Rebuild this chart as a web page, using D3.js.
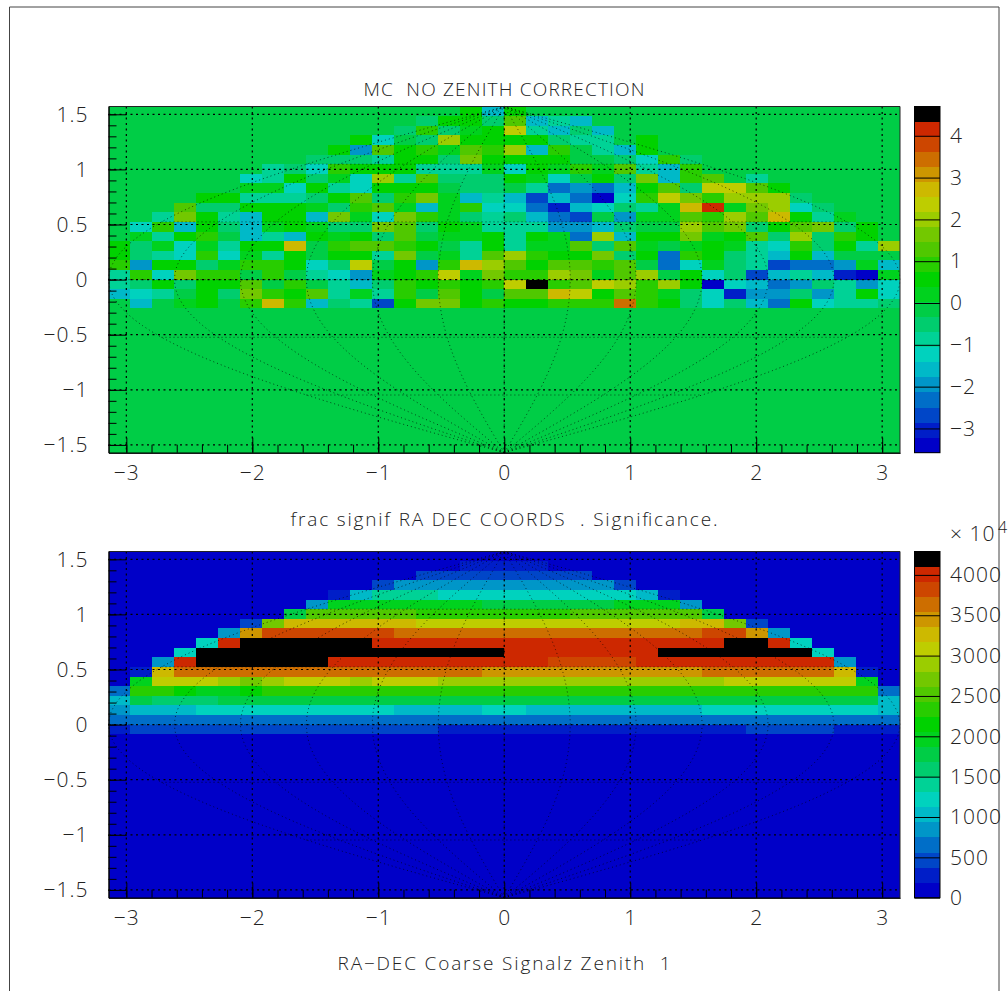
<!DOCTYPE html>
<html lang="en">
<head>
    <meta charset="UTF-8">
    <title>RA DEC significance maps</title>
    <script src="https://cdn.jsdelivr.net/npm/d3@7"></script>
    <style>
        body { margin: 0; background: #fff; }
        text { font-family: "Open Sans", "Liberation Sans", sans-serif; font-weight: 300; fill: #222; }
    </style>
</head>
<body>
    <svg id="svg"></svg>

    <script>

        var WIDTH = 1008;
        var HEIGHT = 991;
        var BINS = 36;

        // colour levels of the palette, bottom of the colour bar first
        var palette = ["#0000c8","#001ec8","#0046c8","#006ec8","#0096c8","#00b9c8","#00d2be","#00d296","#00cd6e","#00cd46",
                       "#00d21e","#00d200","#28cd00","#50c800","#73c800","#9bcd00","#becd00","#cdb900","#cd9600","#cd6e00",
                       "#cd4600","#cd2800","#000000"];

        // Significance per bin, top row first, rows below the last one are empty
        var signifRows = [
            [0,0,0,0,0,0,0,0,0,0,0,0,0,0,0,0,.6,-1.6,.6,0,0,0,0,0,0,0,0,0,0,0,0,0,0,0,0,0],
            [0,0,0,0,0,0,0,0,0,0,0,0,0,0,-.5,.6,.6,-.5,1.3,-1.6,-.9,-1.6,0,0,0,0,0,0,0,0,0,0,0,0,0,0],
            [0,0,0,0,0,0,0,0,0,0,0,0,0,-.5,.9,-.5,.2,.6,2.4,-.9,-1.6,-.5,-1.6,0,0,0,0,0,0,0,0,0,0,0,0,0],
            [0,0,0,0,0,0,0,0,0,0,0,.6,-1.2,0,-.5,2,.6,.6,.6,.6,-.5,-.9,-.9,0,.6,0,0,0,0,0,0,0,0,0,0,0],
            [0,0,0,0,0,0,0,0,0,0,.6,-2,1.3,.6,.9,.2,1.3,.9,2,-1.6,.9,0,-.9,-1.6,.6,0,0,0,0,0,0,0,0,0,0,0],
            [0,0,0,0,0,0,0,0,0,-.5,-.5,-.5,-.9,.6,.6,-.5,1.6,.6,.6,.6,.6,0,0,-.5,-1.2,.9,-.5,0,0,0,0,0,0,0,0,0],
            [0,0,0,0,0,0,0,-.9,-.5,-1.2,.9,.6,.6,.6,-.9,-.9,-.9,.2,-1.2,.6,.2,.9,.2,1.3,-.9,-1.6,.9,0,0,0,0,0,0,0,0,0],
            [0,0,0,0,0,0,-1.2,-.9,.6,-.5,.2,-1.2,2,-.9,1.3,-.5,-.5,-.5,.6,.2,-1.2,0,.6,-.5,1.6,-1.6,.9,1.3,0,-.9,0,0,0,0,0,0],
            [0,0,0,0,0,0,.2,.2,-1.2,.6,-.9,-1.2,.6,.6,.6,0,-.5,-.5,0,-.9,-2.3,-2,-2.3,-1.6,.6,1.3,-.5,2.4,2.4,1.3,.6,0,0,0,0,0],
            [0,0,0,0,.6,.6,-.9,-.9,-.9,-.5,.6,1.3,-.5,.9,1.6,.2,-1.6,-.9,-1.6,-2.7,-1.6,-2.3,-3.4,-1.2,.9,2.4,1.6,.9,2,2,2,-.5,0,0,0,0],
            [0,0,0,1.3,-.5,-.5,.6,.6,.6,.2,-.5,.9,1.3,.2,-1.6,.2,.9,-1.2,-1.2,-2.3,-3,-1.6,-1.2,-.5,-.9,.2,2.7,4.2,.2,1.6,2,-1.2,-.5,0,0,0],
            [0,0,-.9,1.6,.6,-.9,-1.6,.6,.6,-1.6,1.6,.2,-1.2,1.6,.9,.2,-.5,-.9,-.5,-1.6,-2.3,-2.7,0,-2,.2,.2,1.3,.9,2,1.3,2.7,.6,-.9,.2,0,0],
            [0,-1.2,.9,-1.6,.6,-.5,-1.6,.2,.6,.2,-.5,-.5,1.6,1.3,-.5,.6,.2,-.9,-.9,-.9,-2,-2,-1.6,-.5,0,0,2,1.3,1.6,-.5,.6,1.3,1.6,-.5,.6,0],
            [0,.2,-.9,.6,.9,0,-1.6,-.9,-1.6,.6,.2,.6,-.5,1.3,0,.2,.2,.6,-.9,.6,.2,-2.3,2,-1.6,.6,.6,1.6,.2,.6,1.3,-.5,2,-.5,.9,.6,0],
            [.6,-.5,.2,-1.2,.2,-.9,.6,.6,2.7,0,.9,1.3,1.3,.9,.6,0,-.9,.6,-.9,.2,.2,1.3,-.5,1.3,.2,0,.2,.6,.2,-.9,-1.2,.9,-.5,.6,-.9,2],
            [.6,-.5,-.9,-1.2,.9,-1.2,.2,-.9,.6,0,.6,.6,-.9,1.6,0,.2,-.9,1.3,2,.9,.6,.6,1.6,-.5,.6,-2.3,.9,.6,-.5,-.9,-1.6,.6,-1.6,0,0,0],
            [.9,-2,.6,.6,-.5,.2,.9,.9,.6,-1.2,-.5,2.4,0,.6,-2,.9,2.7,2,1.3,.6,1.3,1.3,.9,1.3,0,-2.3,-1.2,.2,-.5,-.9,-2.7,-2.3,-2.3,-2,.2,-1.6],
            [-.9,.9,-1.2,1.6,.9,.9,0,.9,0,-.9,-1.2,-2,.2,.6,.9,2.4,.2,1.6,.9,.9,2,1.6,.2,1.3,2,0,.6,-1.2,-.5,-2.7,-1.6,-.9,-1.6,-3,-3.4,.2],
            [-.9,-.5,.6,-.5,.6,.6,1.3,0,.9,0,-.9,-1.6,-.5,.9,.6,.9,.6,.9,2.4,4.5,.9,1.3,2.4,2,.9,2,.6,-3.4,-1.2,-1.6,-2.3,-2,-.5,-.9,-2,-1.2],
            [-1.6,-1.2,-.9,0,.6,-.5,1.6,.9,.6,1.3,-.9,.2,-.9,.9,0,1.3,.6,0,1.3,1.3,2.7,2.4,.6,1.3,.9,.2,-.5,-1.2,-3,-2,-2,-.5,-2,-.9,.6,-1.2],
            [0,-1.6,0,.2,.6,0,.9,2.7,.9,-1.6,-.5,-.9,-2.7,.6,1.6,1.6,.6,.9,.6,.6,.9,.9,.9,3.4,.9,.6,-.5,-1.2,-.5,-1.6,-2.3,.6,-1.2,-.9,-.9,-.5]
        ];

        // Counts per bin (in units of 10^4), top row first
        var countRows = [
            [0,0,0,0,0,0,0,0,0,0,0,0,0,0,0,0,0,0,0,0,0,0,0,0,0,0,0,0,0,0,0,0,0,0,0,0],
            [0,0,0,0,0,0,0,0,0,0,0,0,0,0,0,0,280,280,280,280,0,0,0,0,0,0,0,0,0,0,0,0,0,0,0,0],
            [0,0,0,0,0,0,0,0,0,0,0,0,0,0,470,470,470,470,470,470,470,470,0,0,0,0,0,0,0,0,0,0,0,0,0,0],
            [0,0,0,0,0,0,0,0,0,0,0,0,470,840,840,840,840,840,840,840,840,840,840,470,0,0,0,0,0,0,0,0,0,0,0,0],
            [0,0,0,0,0,0,0,0,0,0,280,1030,1400,1400,1400,1210,1210,1210,1210,1210,1210,1210,1210,1210,1030,280,0,0,0,0,0,0,0,0,0,0],
            [0,0,0,0,0,0,0,0,0,840,1960,1960,1960,1960,1960,1960,1960,1770,1770,1770,1770,1770,1770,1960,1960,1960,840,0,0,0,0,0,0,0,0,0],
            [0,0,0,0,0,0,0,0,1770,2520,2520,2520,2520,2520,2330,2330,2330,2330,2330,2330,2330,2520,2520,2520,2520,2520,2520,1770,0,0,0,0,0,0,0,0],
            [0,0,0,0,0,0,470,2700,3260,3260,3260,3260,3260,3260,3080,3080,3080,3080,3080,3080,3080,3080,3080,3080,3080,3080,3260,3260,2700,470,0,0,0,0,0,0],
            [0,0,0,0,0,840,3450,3820,3820,3820,3820,3820,3820,3640,3640,3640,3640,3640,3640,3640,3640,3640,3640,3640,3640,3640,3640,3820,3820,3450,840,0,0,0,0,0],
            [0,0,0,0,1210,4010,4200,4200,4200,4200,4200,4200,4010,4010,4010,4010,4010,4010,4010,4010,4010,4010,4010,4010,4010,4010,4010,4010,4200,4200,4010,1210,0,0,0,0],
            [0,0,0,1210,4200,4200,4200,4200,4200,4200,4200,4200,4200,4200,4200,4200,4200,4200,4010,4010,4010,4010,4010,4010,4010,4200,4200,4200,4200,4200,4200,4200,1210,0,0,0],
            [0,0,840,4010,4200,4200,4200,4200,4200,4200,4010,4010,4010,4010,4010,4010,4010,4010,4010,4010,3820,3820,3820,3820,4010,4010,4010,4010,4010,4010,4010,4010,4010,840,0,0],
            [0,280,3260,3640,3640,3640,3640,3640,3640,3640,3640,3640,3640,3640,3640,3640,3640,3450,3450,3450,3450,3450,3450,3450,3450,3450,3450,3640,3640,3640,3640,3640,3640,3260,280,0],
            [0,1960,3080,3080,3080,2890,2700,2890,3080,3080,3080,2890,3080,3080,3080,2890,2890,2890,2890,2890,2890,2890,2890,2890,2890,2890,2890,2890,3080,3080,3080,3080,3080,3080,1960,0],
            [650,2330,2330,2150,1960,1960,2150,2330,2330,2330,2330,2330,2330,2330,2330,2330,2330,2330,2330,2330,2330,2330,2330,2330,2330,2330,2330,2330,2330,2330,2330,2330,2330,2330,2330,650],
            [1030,1770,1590,1590,1590,1770,1770,1770,1770,1770,1770,1770,1770,1770,1770,1770,1770,1770,1770,1770,1770,1770,1770,1770,1770,1770,1770,1770,1770,1770,1770,1770,1770,1770,1770,1030],
            [840,1030,1030,1030,1210,1210,1210,1210,1210,1210,1210,1210,1210,1030,1030,1030,1030,1210,1210,1030,1030,1030,1030,1030,1030,1030,1030,1210,1210,1210,1210,1210,1210,1210,1210,1030],
            [650,650,650,650,650,650,650,650,650,650,650,650,650,650,650,650,650,650,650,650,650,650,650,650,650,650,650,650,650,650,650,650,650,650,650,650],
            [280,470,470,470,470,470,470,470,470,470,470,470,470,470,470,280,280,280,280,280,280,280,280,280,280,280,280,280,280,470,470,470,470,280,280,280]
        ];

        var xTicks = [-3,-2,-1,0,1,2,3];
        var xMinorTicks = [-3,-2.8,-2.6,-2.4,-2.2,-2,-1.8,-1.6,-1.4,-1.2,-1,-.8,-.6,-.4,-.2,0,.2,.4,.6,.8,1,1.2,1.4,1.6,1.8,2,2.2,2.4,2.6,2.8,3];
        var yTicks = [-1.5,-1,-.5,0,.5,1,1.5];
        var yMinorTicks = [-1.5,-1.4,-1.3,-1.2,-1.1,-1,-.9,-.8,-.7,-.6,-.5,-.4,-.3,-.2,-.1,0,.1,.2,.3,.4,.5,.6,.7,.8,.9,1,1.1,1.2,1.3,1.4,1.5];

        // sky grid drawn over the maps, degrees
        var gridLongitudes = [-180,-150,-120,-90,-60,-30,0,30,60,90,120,150,180];
        var gridLatitudes = [-60,-30,0,30,60];

        var signifTicks = [-3,-2,-1,0,1,2,3,4];
        var signifRange = [-3.58, 4.7];
        var countTicks = [0,500,1000,1500,2000,2500,3000,3500,4000];
        var countRange = [0, 4290];

        var PLOT_LEFT = 108.5;
        var PLOT_RIGHT = 900;
        var BAR_LEFT = 914.5;
        var BAR_RIGHT = 940;

        var svg = d3.select("#svg")
                    .attr("width", WIDTH)
                    .attr("height", HEIGHT)
                    .style("display", "block");

        // page frame
        svg.append("path")
            .attr("d", "M9.5,"+HEIGHT+"V7H999V"+HEIGHT)
            .attr("fill", "none")
            .attr("stroke", "#444")
            .attr("stroke-width", 1);

        var drawPanel = function(rows, range, barTicks, top, bottom){
            var g = svg.append("g");

            var xScale = d3.scaleLinear().domain([-Math.PI, Math.PI]).range([PLOT_LEFT, PLOT_RIGHT]);
            var yScale = d3.scaleLinear().domain([-Math.PI/2, Math.PI/2]).range([bottom, top]);
            var xBand = d3.scaleBand().domain(d3.range(BINS)).range([PLOT_LEFT, PLOT_RIGHT]);
            var yBand = d3.scaleBand().domain(d3.range(BINS)).range([top, bottom]);
            var cScale = d3.scaleQuantize().domain(range).range(palette);
            var barScale = d3.scaleLinear().domain(range).range([bottom, top]);

            var cells = [];
            d3.range(BINS).forEach(function(r){
                d3.range(BINS).forEach(function(c){
                    cells.push({r: r, c: c, v: rows[r] ? rows[r][c] : 0});
                });
            });

            g.selectAll("rect.cell")
                .data(cells)
                .enter()
                .append("rect")
                .attr("class", "cell")
                .attr("x", function(d){ return xBand(d.c); })
                .attr("y", function(d){ return yBand(d.r); })
                .attr("width", xBand.bandwidth())
                .attr("height", yBand.bandwidth())
                .attr("fill", function(d){ return cScale(d.v); })
                .attr("shape-rendering", "crispEdges");

            // sky grid, sinusoidal projection
            var skyLine = d3.line()
                .x(function(d){ return xScale(d[0]*Math.PI/180*Math.cos(d[1]*Math.PI/180)); })
                .y(function(d){ return yScale(d[1]*Math.PI/180); });

            var sky = g.append("g")
                .attr("fill", "none")
                .attr("stroke", "#000")
                .attr("stroke-width", 1)
                .attr("stroke-opacity", 0.65)
                .attr("stroke-dasharray", "1 3");

            gridLongitudes.forEach(function(lon){
                sky.append("path").attr("d", skyLine(d3.range(-90, 91, 3).map(function(lat){ return [lon, lat]; })));
            });
            gridLatitudes.forEach(function(lat){
                sky.append("path").attr("d", skyLine([[-180, lat], [180, lat]]));
            });

            // dotted grid at the major ticks
            var grid = g.append("g")
                .attr("stroke", "#000")
                .attr("stroke-width", 1.2)
                .attr("stroke-dasharray", "2 3.5");

            grid.selectAll("line.gx")
                .data(xTicks)
                .enter()
                .append("line")
                .attr("x1", xScale).attr("x2", xScale)
                .attr("y1", top).attr("y2", bottom);

            grid.selectAll("line.gy")
                .data(yTicks)
                .enter()
                .append("line")
                .attr("y1", yScale).attr("y2", yScale)
                .attr("x1", PLOT_LEFT).attr("x2", PLOT_RIGHT);

            var fmt = d3.format("~g");

            // axes, ticks point into the plot
            g.append("g")
                .attr("transform", "translate(0,"+bottom+")")
                .call(d3.axisBottom(xScale).tickValues(xMinorTicks).tickSize(-8).tickSizeOuter(0).tickFormat(""));
            g.append("g")
                .attr("transform", "translate("+PLOT_LEFT+",0)")
                .call(d3.axisLeft(yScale).tickValues(yMinorTicks).tickSize(-8).tickSizeOuter(0).tickFormat(""));
            g.append("g")
                .attr("class", "axis")
                .attr("transform", "translate(0,"+bottom+")")
                .call(d3.axisBottom(xScale).tickValues(xTicks).tickSize(-15).tickSizeOuter(0).tickPadding(12).tickFormat(fmt));
            g.append("g")
                .attr("class", "axis")
                .attr("transform", "translate("+PLOT_LEFT+",0)")
                .call(d3.axisLeft(yScale).tickValues(yTicks).tickSize(-18).tickSizeOuter(0).tickPadding(20).tickFormat(fmt));

            // top and right sides of the frame
            g.append("path")
                .attr("d", "M"+PLOT_LEFT+","+top+"H"+PLOT_RIGHT+"V"+bottom)
                .attr("fill", "none")
                .attr("stroke", "#222");

            // colour bar
            var step = (range[1]-range[0])/palette.length;
            g.selectAll("rect.level")
                .data(palette)
                .enter()
                .append("rect")
                .attr("class", "level")
                .attr("x", BAR_LEFT)
                .attr("width", BAR_RIGHT-BAR_LEFT)
                .attr("y", function(d,i){ return barScale(range[0]+step*(i+1)); })
                .attr("height", function(d,i){ return barScale(range[0]+step*i)-barScale(range[0]+step*(i+1)); })
                .attr("fill", function(d){ return d; })
                .attr("shape-rendering", "crispEdges");

            g.append("g")
                .attr("class", "axis")
                .attr("transform", "translate("+BAR_LEFT+",0)")
                .call(d3.axisRight(barScale).tickValues(barTicks).tickSize(BAR_RIGHT-BAR_LEFT).tickSizeOuter(0).tickPadding(10).tickFormat(fmt))
                .select(".domain").remove();

            g.append("rect")
                .attr("x", BAR_LEFT)
                .attr("y", top)
                .attr("width", BAR_RIGHT-BAR_LEFT)
                .attr("height", bottom-top)
                .attr("fill", "none")
                .attr("stroke", "#000");
        };

        drawPanel(signifRows, signifRange, signifTicks, 106.5, 452.7);
        drawPanel(countRows, countRange, countTicks, 551.5, 897.7);

        svg.selectAll(".axis text")
            .attr("font-size", 21)
            .attr("font-family", null)
            .attr("letter-spacing", 1);

        var title = function(str, y, len){
            svg.append("text")
                .text(str)
                .attr("x", 504)
                .attr("y", y)
                .attr("text-anchor", "middle")
                .attr("font-size", 19)
                .attr("textLength", len)
                .attr("lengthAdjust", "spacing")
                .style("white-space", "pre");
        };

        title("MC  NO ZENITH CORRECTION", 95.5, 281);
        title("frac signif RA DEC COORDS  . Significance.", 525.5, 427);
        title("RA\u2212DEC Coarse Signalz Zenith  1", 970, 333);

        // exponent of the lower colour bar
        svg.append("text").text("\u00d7 10")
            .attr("x", 950).attr("y", 541)
            .attr("font-size", 21).attr("letter-spacing", 1);
        svg.append("text").text("4")
            .attr("x", 998).attr("y", 533)
            .attr("font-size", 16);

    </script>

</body>
</html>
